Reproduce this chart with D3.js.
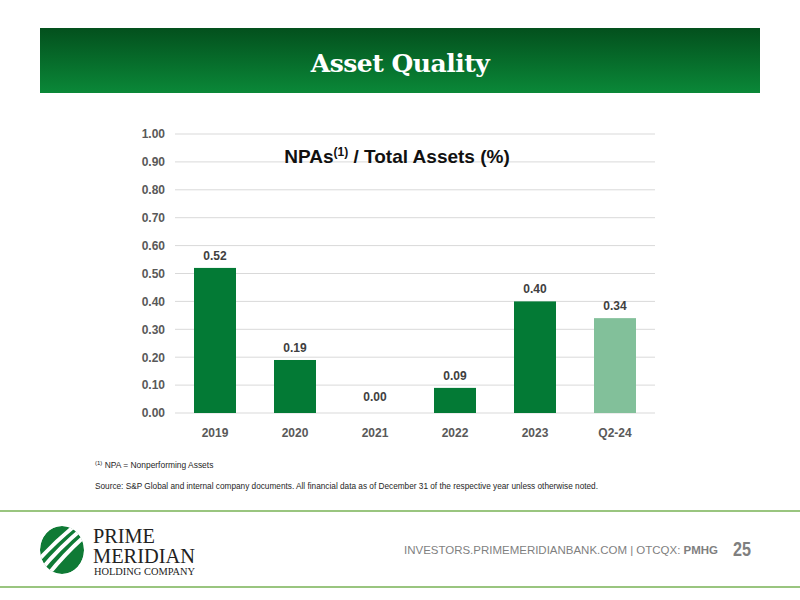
<!DOCTYPE html>
<html>
<head>
<meta charset="utf-8">
<script src="https://cdn.jsdelivr.net/npm/d3@7"></script>
<style>
  body { margin: 0; background: #fff; }
  svg { display: block; }
  .narrow { font-family: "Liberation Sans Narrow", "Arial Narrow", "Liberation Sans", Arial, sans-serif; }
</style>
</head>
<body>
<div id="chart"></div>
<script>
// NPAs / Total Assets chart

var width = 800
var height = 600

// data
const categories = ['2019', '2020', '2021', '2022', '2023', 'Q2-24']
const npaValues = [0.52, 0.19, 0.00, 0.09, 0.40, 0.34]
const yTicks = [0, 0.1, 0.2, 0.3, 0.4, 0.5, 0.6, 0.7, 0.8, 0.9, 1.0]

// plot area
const plot = { left: 175, right: 655, top: 134, bottom: 413 }

const svg = d3.select('#chart')
  .append('svg')
  .attr('width', width)
  .attr('height', height)

// header band
const defs = svg.append('defs')
const grad = defs.append('linearGradient')
  .attr('id', 'hdr')
  .attr('x1', 0).attr('y1', 0).attr('x2', 0).attr('y2', 1)
grad.append('stop').attr('offset', '0%').attr('stop-color', '#03501d')
grad.append('stop').attr('offset', '100%').attr('stop-color', '#0a8838')

svg.append('rect')
  .attr('x', 40).attr('y', 28)
  .attr('width', 720).attr('height', 65)
  .attr('fill', 'url(#hdr)')

svg.append('text')
  .text('Asset Quality')
  .attr('x', 400).attr('y', 72)
  .attr('text-anchor', 'middle')
  .attr('fill', '#fff')
  .attr('font-family', '"DejaVu Serif", "Liberation Serif", serif')
  .attr('font-weight', 'bold')
  .attr('font-size', 25)
  .attr('letter-spacing', -0.5)

// scales
const xScale = d3.scaleBand()
  .domain(categories)
  .range([plot.left, plot.right])
  .paddingInner(0.475)
  .paddingOuter(0.2375)

const yScale = d3.scaleLinear()
  .domain([0, 1])
  .range([plot.bottom, plot.top])

// gridlines
svg.append('g')
  .selectAll('line')
  .data(yTicks)
  .enter()
  .append('line')
  .attr('x1', plot.left)
  .attr('x2', plot.right)
  .attr('y1', d => yScale(d))
  .attr('y2', d => yScale(d))
  .attr('stroke', '#d9d9d9')
  .attr('stroke-width', 1)

// y axis
const yAxis = d3.axisLeft(yScale)
  .tickValues(yTicks)
  .tickFormat(d3.format('.2f'))
  .tickSize(0)
  .tickPadding(10)

svg.append('g')
  .attr('class', 'narrow')
  .attr('transform', `translate(${plot.left}, 0)`)
  .call(yAxis)
  .call(g => g.select('.domain').remove())
  .selectAll('text')
  .attr('font-size', 12)
  .attr('font-weight', 'bold')
  .attr('fill', '#595959')
  .attr('font-family', null)

// x axis
const xAxis = d3.axisBottom(xScale)
  .tickSize(0)
  .tickPadding(15)

svg.append('g')
  .attr('class', 'narrow')
  .attr('transform', `translate(0, ${plot.bottom})`)
  .call(xAxis)
  .call(g => g.select('.domain').remove())
  .selectAll('text')
  .attr('font-size', 12)
  .attr('font-weight', 'bold')
  .attr('fill', '#595959')
  .attr('font-family', null)

// bars
svg.selectAll('rect.bar')
  .data(npaValues)
  .enter()
  .append('rect')
  .attr('class', 'bar')
  .attr('x', (d, i) => xScale(categories[i]))
  .attr('y', d => yScale(d))
  .attr('width', xScale.bandwidth())
  .attr('height', d => yScale(0) - yScale(d))
  .attr('fill', (d, i) => categories[i] === 'Q2-24' ? '#82c09a' : '#037a35')

// bar labels
svg.selectAll('text.lbl')
  .data(npaValues)
  .enter()
  .append('text')
  .attr('class', 'lbl narrow')
  .attr('x', (d, i) => xScale(categories[i]) + xScale.bandwidth() / 2)
  .attr('y', d => yScale(d) - 8 - (d === 0 ? 4 : 0))
  .attr('text-anchor', 'middle')
  .attr('font-size', 12)
  .attr('font-weight', 'bold')
  .attr('fill', '#404040')
  .text(d => d3.format('.2f')(d))

// chart title
const title = svg.append('text')
  .attr('class', 'narrow')
  .attr('x', 397).attr('y', 163)
  .attr('text-anchor', 'middle')
  .attr('font-size', 19)
  .attr('font-weight', 'bold')
  .attr('fill', '#111')
title.append('tspan').text('NPAs')
title.append('tspan').text('(1)').attr('font-size', 12).attr('dy', -7)
title.append('tspan').text(' / Total Assets (%)').attr('dy', 7)

// footnotes
const note = svg.append('text')
  .attr('class', 'narrow')
  .attr('x', 95).attr('y', 468)
  .attr('font-size', 9.5)
  .attr('fill', '#262626')
note.append('tspan').text('(1)').attr('font-size', 6).attr('dy', -3)
note.append('tspan').text(' NPA = Nonperforming Assets').attr('dy', 3)
  .attr('textLength', 111).attr('lengthAdjust', 'spacingAndGlyphs')

svg.append('text')
  .attr('class', 'narrow')
  .attr('x', 95).attr('y', 489)
  .attr('font-size', 9.5)
  .attr('fill', '#262626')
  .attr('textLength', 503)
  .attr('lengthAdjust', 'spacingAndGlyphs')
  .text('Source: S&P Global and internal company documents. All financial data as of December 31 of the respective year unless otherwise noted.')

// footer rules
svg.selectAll('line.rule')
  .data([511, 587])
  .enter()
  .append('line')
  .attr('class', 'rule')
  .attr('x1', 0).attr('x2', width)
  .attr('y1', d => d).attr('y2', d => d)
  .attr('stroke', '#77b255')
  .attr('stroke-width', 1.5)

// logo mark: green globe with white curved bands
const logo = svg.append('g').attr('transform', 'translate(62, 550)')
defs.append('clipPath').attr('id', 'globe')
  .append('ellipse').attr('rx', 22).attr('ry', 24)
const globe = logo.append('g').attr('clip-path', 'url(#globe)')
globe.append('ellipse').attr('rx', 22).attr('ry', 24).attr('fill', '#0f7a35')
globe.selectAll('path')
  .data([-14, -3, 8])
  .enter()
  .append('path')
  .attr('d', d => `M${d - 26},30 Q${d - 2},-2 ${d + 34},-30`)
  .attr('fill', 'none')
  .attr('stroke', '#fff')
  .attr('stroke-width', 4)

const brand = svg.append('g')
  .attr('font-family', '"Liberation Serif", "DejaVu Serif", serif')
  .attr('fill', '#222')
brand.append('text').attr('x', 93).attr('y', 543).attr('font-size', 20)
  .attr('textLength', 62).attr('lengthAdjust', 'spacingAndGlyphs').text('PRIME')
brand.append('text').attr('x', 93).attr('y', 563).attr('font-size', 20)
  .attr('textLength', 102).attr('lengthAdjust', 'spacingAndGlyphs').text('MERIDIAN')
brand.append('text').attr('x', 94).attr('y', 575).attr('font-size', 9.5)
  .attr('textLength', 101).attr('lengthAdjust', 'spacingAndGlyphs').text('HOLDING COMPANY')

// right footer
const foot = svg.append('text')
  .attr('class', 'narrow')
  .attr('x', 404).attr('y', 554)
  .attr('font-size', 11)
  .attr('fill', '#7f7f7f')
  .attr('textLength', 314)
  .attr('lengthAdjust', 'spacingAndGlyphs')
foot.append('tspan').text('INVESTORS.PRIMEMERIDIANBANK.COM  |  OTCQX: ')
foot.append('tspan').text('PMHG').attr('font-weight', 'bold')

svg.append('text')
  .attr('class', 'narrow')
  .attr('x', 733).attr('y', 556)
  .attr('font-size', 20)
  .attr('font-weight', 'bold')
  .attr('fill', '#7f7f7f')
  .attr('textLength', 18)
  .attr('lengthAdjust', 'spacingAndGlyphs')
  .text('25')
</script>
</body>
</html>
